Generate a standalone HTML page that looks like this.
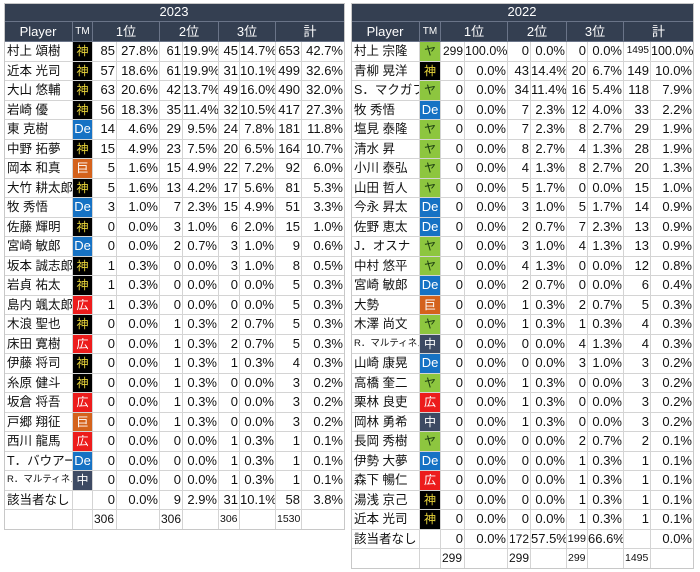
<!DOCTYPE html>
<html><head><meta charset="utf-8">
<style>
body{margin:0;width:700px;height:572px;background:#fff;position:relative;overflow:hidden;font-family:"Liberation Sans","Noto Sans CJK JP",sans-serif;}
.c{position:absolute;box-sizing:border-box;border-right:1px solid #d4d4d4;border-bottom:1px solid #d4d4d4;font-size:13px;line-height:19px;white-space:nowrap;overflow:hidden;color:#111;}
.h{background:#343f51;color:#fff;text-align:center;border-right:1px solid #6a7488;border-bottom:1px solid #6a7488;}
.r{text-align:right;padding-right:1px;}
.n{padding-left:3px;font-size:12.5px;}
.tm{text-align:center;font-size:12px;border-right:1px solid #d4d4d4;}
</style></head><body>
<script>
const Y2023_players=["村上 頌樹","近本 光司","大山 悠輔","岩崎 優","東 克樹","中野 拓夢","岡本 和真","大竹 耕太郎","牧 秀悟","佐藤 輝明","宮崎 敏郎","坂本 誠志郎","岩貞 祐太","島内 颯太郎","木浪 聖也","床田 寛樹","伊藤 将司","糸原 健斗","坂倉 将吾","戸郷 翔征","西川 龍馬","T．バウアー","R．マルティネス","該当者なし"];
const Y2023_teams=["神","神","神","神","De","神","巨","神","De","神","De","神","神","広","神","広","神","神","広","巨","広","De","中",""];
const Y2023_first=[85,57,63,56,14,15,5,5,3,0,0,1,1,1,0,0,0,0,0,0,0,0,0,0];
const Y2023_firstPct=["27.8%","18.6%","20.6%","18.3%","4.6%","4.9%","1.6%","1.6%","1.0%","0.0%","0.0%","0.3%","0.3%","0.3%","0.0%","0.0%","0.0%","0.0%","0.0%","0.0%","0.0%","0.0%","0.0%","0.0%"];
const Y2023_second=[61,61,42,35,29,23,15,13,7,3,2,0,0,0,1,1,1,1,1,1,0,0,0,9];
const Y2023_secondPct=["19.9%","19.9%","13.7%","11.4%","9.5%","7.5%","4.9%","4.2%","2.3%","1.0%","0.7%","0.0%","0.0%","0.0%","0.3%","0.3%","0.3%","0.3%","0.3%","0.3%","0.0%","0.0%","0.0%","2.9%"];
const Y2023_third=[45,31,49,32,24,20,22,17,15,6,3,3,0,0,2,2,1,0,0,0,1,1,1,31];
const Y2023_thirdPct=["14.7%","10.1%","16.0%","10.5%","7.8%","6.5%","7.2%","5.6%","4.9%","2.0%","1.0%","1.0%","0.0%","0.0%","0.7%","0.7%","0.3%","0.0%","0.0%","0.0%","0.3%","0.3%","0.3%","10.1%"];
const Y2023_total=[653,499,490,417,181,164,92,81,51,15,9,8,5,5,5,5,4,3,3,3,1,1,1,58];
const Y2023_totalPct=["42.7%","32.6%","32.0%","27.3%","11.8%","10.7%","6.0%","5.3%","3.3%","1.0%","0.6%","0.5%","0.3%","0.3%","0.3%","0.3%","0.3%","0.2%","0.2%","0.2%","0.1%","0.1%","0.1%","3.8%"];
const Y2023_sums=["306","306","306","1530"];

const Y2022_players=["村上 宗隆","青柳 晃洋","S．マクガフ","牧 秀悟","塩見 泰隆","清水 昇","小川 泰弘","山田 哲人","今永 昇太","佐野 恵太","J．オスナ","中村 悠平","宮崎 敏郎","大勢","木澤 尚文","R．マルティネス","山崎 康晃","高橋 奎二","栗林 良吏","岡林 勇希","長岡 秀樹","伊勢 大夢","森下 暢仁","湯浅 京己","近本 光司","該当者なし"];
const Y2022_teams=["ヤ","神","ヤ","De","ヤ","ヤ","ヤ","ヤ","De","De","ヤ","ヤ","De","巨","ヤ","中","De","ヤ","広","中","ヤ","De","広","神","神",""];
const Y2022_first=[299,0,0,0,0,0,0,0,0,0,0,0,0,0,0,0,0,0,0,0,0,0,0,0,0,0];
const Y2022_firstPct=["100.0%","0.0%","0.0%","0.0%","0.0%","0.0%","0.0%","0.0%","0.0%","0.0%","0.0%","0.0%","0.0%","0.0%","0.0%","0.0%","0.0%","0.0%","0.0%","0.0%","0.0%","0.0%","0.0%","0.0%","0.0%","0.0%"];
const Y2022_second=[0,43,34,7,7,8,4,5,3,2,3,4,2,1,1,0,0,1,1,1,0,0,0,0,0,172];
const Y2022_secondPct=["0.0%","14.4%","11.4%","2.3%","2.3%","2.7%","1.3%","1.7%","1.0%","0.7%","1.0%","1.3%","0.7%","0.3%","0.3%","0.0%","0.0%","0.3%","0.3%","0.3%","0.0%","0.0%","0.0%","0.0%","0.0%","57.5%"];
const Y2022_third=[0,20,16,12,8,4,8,0,5,7,4,0,0,2,1,4,3,0,0,0,2,1,1,1,1,199];
const Y2022_thirdPct=["0.0%","6.7%","5.4%","4.0%","2.7%","1.3%","2.7%","0.0%","1.7%","2.3%","1.3%","0.0%","0.0%","0.7%","0.3%","1.3%","1.0%","0.0%","0.0%","0.0%","0.7%","0.3%","0.3%","0.3%","0.3%","66.6%"];
const Y2022_total=[1495,149,118,33,29,28,20,15,14,13,13,12,6,5,4,4,3,3,3,3,2,1,1,1,1,""];
const Y2022_totalPct=["100.0%","10.0%","7.9%","2.2%","1.9%","1.9%","1.3%","1.0%","0.9%","0.9%","0.9%","0.8%","0.4%","0.3%","0.3%","0.3%","0.2%","0.2%","0.2%","0.2%","0.1%","0.1%","0.1%","0.1%","0.1%","0.0%"];
const Y2022_sums=["299","299","299","1495"];

const TEAM_STYLE={"神":["#000","#e8d43a"],"De":["#1672c4","#fff"],"巨":["#d4621c","#fff"],"広":["#ec1c1c","#fff"],"中":["#3d4a63","#fff"],"ヤ":["#8dc63f","#1a3a10"],"":["#fff","#000"]};
const RH=19.5;

function cell(x,y,w,h,text,cls,name){
  const d=document.createElement('div');
  d.className='c '+cls;
  d.style.left=x+'px';d.style.top=y+'px';d.style.width=w+'px';d.style.height=h+'px';
  d.style.lineHeight=(h-1)+'px';
  d.textContent=text;
  
  
  document.body.appendChild(d);
  return d;
}

function buildTable(x0,cols,title,players,teams,f,fp,s,sp,t,tp,tot,totp,sums,key){
  const W=cols[10]-cols[0];
  cell(cols[0],3,W,19,title,'h',key+'-title');
  const hy=22;
  cell(cols[0],hy,cols[1]-cols[0],20,'Player','h',key+'-player-header');
  const tmh=cell(cols[1],hy,cols[2]-cols[1],20,'TM','h',key+'-team-header');tmh.style.fontSize='10px';
  const heads=['1位','2位','3位','計'];
  for(let i=0;i<4;i++){cell(cols[2+i*2],hy,cols[4+i*2]-cols[2+i*2],20,heads[i],'h',key+'-rank-header');}
  const y0=42;
  for(let r=0;r<players.length;r++){
    const y=y0+r*RH;
    const nm=cell(cols[0],y,cols[1]-cols[0],RH,players[r],'n',key+'-player-name');
    if(players[r].startsWith('R．'))nm.style.fontSize='9.5px';
    const tm=cell(cols[1],y,cols[2]-cols[1],RH,teams[r],'tm',key+'-team-badge');
    const st=TEAM_STYLE[teams[r]];tm.style.background=st[0];tm.style.color=st[1];
    if(teams[r]==='De')tm.style.fontSize='13px';
    const vals=[f[r],fp[r],s[r],sp[r],t[r],tp[r],tot[r],totp[r]];
    for(let i=0;i<8;i++){
      const v=String(vals[i]);
      const c=cell(cols[2+i],y,cols[3+i]-cols[2+i],RH,v,'r',key+'-value');
      if(i%2===0){
        const w=cols[3+i]-cols[2+i];
        if(v.length>=4)c.style.fontSize='10px';
        else if(v.length===3 && w<=24)c.style.fontSize='12px';
        if(v.length===3 && w<=21)c.style.fontSize='11px';
      }
      if(v==='100.0%')c.style.fontSize='12.5px';
    }
  }
  const yt=y0+players.length*RH;
  cell(cols[0],yt,cols[1]-cols[0],RH,'','n',key+'-sum-label');
  cell(cols[1],yt,cols[2]-cols[1],RH,'','tm',key+'-sum-team');
  for(let i=0;i<8;i++){
    const c=cell(cols[2+i],yt,cols[3+i]-cols[2+i],RH,i%2===0?sums[i/2]:'','',key+'-sum-value');
    c.style.paddingLeft='1px';
    c.style.fontSize=(i>=4)?'10.5px':'12px';
  }
  const frame=document.createElement('div');
  frame.style.cssText='position:absolute;left:'+cols[0]+'px;top:3px;width:'+W+'px;height:'+(yt+RH-3)+'px;box-sizing:border-box;border:1px solid #c8c8c8;pointer-events:none;';
  
  
  document.body.appendChild(frame);
}
buildTable(4,[4,73,93,117,160,183,219,240,276,302,345],'2023',Y2023_players,Y2023_teams,Y2023_first,Y2023_firstPct,Y2023_second,Y2023_secondPct,Y2023_third,Y2023_thirdPct,Y2023_total,Y2023_totalPct,Y2023_sums,'t2023');
buildTable(351,[351,420,441,465,508,531,567,588,624,651,694],'2022',Y2022_players,Y2022_teams,Y2022_first,Y2022_firstPct,Y2022_second,Y2022_secondPct,Y2022_third,Y2022_thirdPct,Y2022_total,Y2022_totalPct,Y2022_sums,'t2022');
</script>
</body></html>
